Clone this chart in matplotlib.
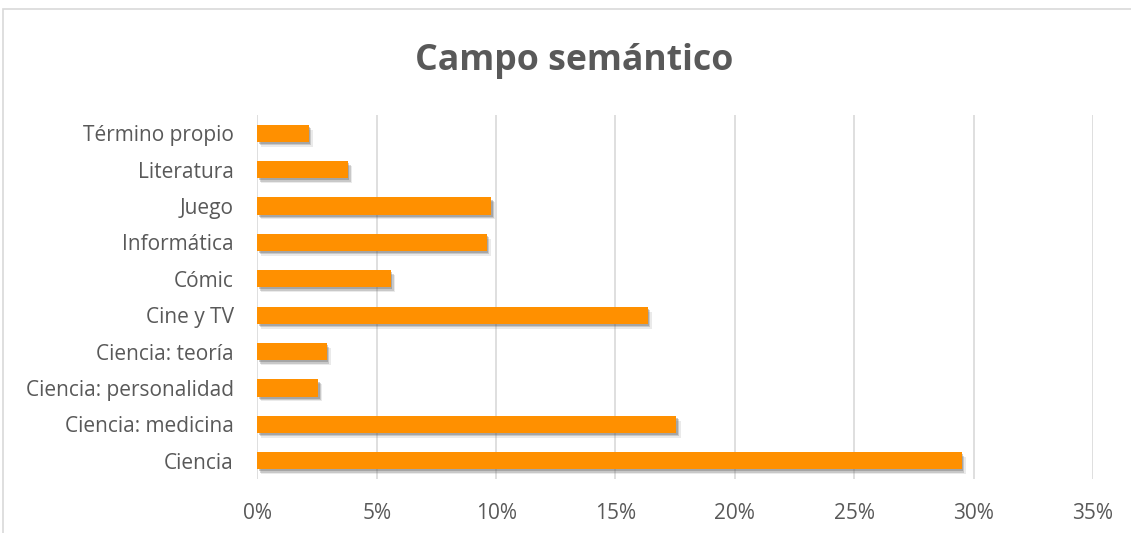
import matplotlib.pyplot as plt
import matplotlib.patheffects as pe
from matplotlib.patches import Rectangle
from matplotlib.ticker import MultipleLocator, FuncFormatter

# datos (de abajo hacia arriba)
categorias = ['Ciencia', 'Ciencia: medicina', 'Ciencia: personalidad', 'Ciencia: teoría',
              'Cine y TV', 'Cómic', 'Informática', 'Juego', 'Literatura', 'Término propio']
valores = [29.5, 17.55, 2.55, 2.9, 16.35, 5.6, 9.6, 9.8, 3.8, 2.15]

plt.rcParams['font.family'] = ['Open Sans', 'DejaVu Sans']
gris = '#595959'

fig = plt.figure(figsize=(11.31, 5.33), dpi=100)
ax = fig.add_axes([0.2275, 0.1013, 0.7389, 0.6829])

# borde del gráfico
fig.add_artist(Rectangle((3 / 1131, -0.1), 1.2, 1.1 - 9 / 533, transform=fig.transFigure,
                         fill=False, edgecolor='#d9d9d9', linewidth=1.2))

# sombra difusa: varias capas desplazadas
sombra = [pe.SimplePatchShadow(offset=(3, -3.5), shadow_rgbFace='#777777', alpha=0.15),
          pe.SimplePatchShadow(offset=(2, -2.5), shadow_rgbFace='#666666', alpha=0.25),
          pe.SimplePatchShadow(offset=(1, -1.5), shadow_rgbFace='#555555', alpha=0.3),
          pe.Normal()]
bars = ax.barh(range(len(categorias)), valores, height=0.47, color='#ff9000', zorder=3)
for b in bars:
    b.set_path_effects(sombra)

ax.set_xlim(0, 35)
ax.set_ylim(-0.5, len(categorias) - 0.5)
ax.xaxis.set_major_locator(MultipleLocator(5))
ax.xaxis.set_major_formatter(FuncFormatter(lambda v, p: f'{v:.0f}%'))
ax.set_yticks(range(len(categorias)))
ax.set_yticklabels(categorias)
ax.grid(axis='x', color='#d9d9d9', linewidth=1.2, zorder=0)
ax.set_axisbelow(True)
for s in ax.spines.values():
    s.set_visible(False)
ax.tick_params(length=0, labelsize=15, colors=gris)
ax.tick_params(axis='x', pad=17)
ax.tick_params(axis='y', pad=17)

fig.text(574 / 1131, 1 - 61 / 533, 'Campo semántico', ha='center', va='center',
         fontsize=25.7, fontweight='bold', color=gris)

plt.savefig('out.png', dpi=100, facecolor='white')
